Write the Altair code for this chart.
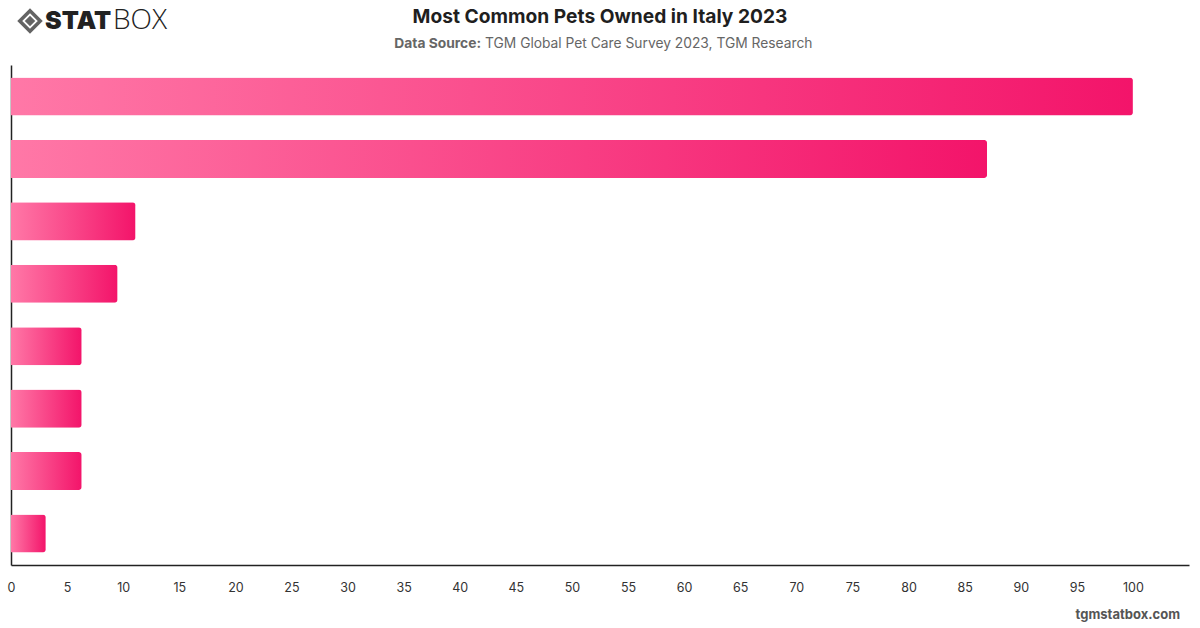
import altair as alt
import pandas as pd

# Share of pet owners in Italy owning each kind of pet (2023)
pets = ["Dogs", "Cats", "Fish", "Birds", "Rabbits", "Turtles", "Hamsters", "Reptiles"]
shares = [100, 87, 11.1, 9.5, 6.3, 6.3, 6.3, 3.1]
tick_values = list(range(0, 101, 5))

df = pd.DataFrame({"pet": pets, "share": shares})

W, H = 1178, 500
FONT = "Inter"

gradient = alt.Gradient(
    gradient="linear",
    x1=0, y1=0, x2=1, y2=0,
    stops=[
        alt.GradientStop(color="#ff78a7", offset=0),
        alt.GradientStop(color="#f3146a", offset=1),
    ],
)

bars = alt.Chart(df).mark_bar(
    color=gradient, cornerRadiusEnd=3, clip=False
).encode(
    x=alt.X(
        "share:Q",
        scale=alt.Scale(domain=[0, 105], nice=False, zero=True),
        axis=alt.Axis(
            values=tick_values, title=None, grid=False, ticks=False,
            domainColor="#222222", domainWidth=1.5,
            labelColor="#333333", labelFontSize=12.5, labelFont=FONT,
            labelPadding=16, labelFlush=False,
        ),
    ),
    y=alt.Y(
        "pet:N", sort=pets,
        scale=alt.Scale(paddingInner=0.39, paddingOuter=0.2),
        axis=alt.Axis(
            title=None, labels=False, ticks=False, grid=False,
            domainColor="#222222", domainWidth=1.5,
        ),
    ),
)

def text_at(txt, x, y, size, weight="normal", color="#222222", align="center", font=FONT):
    return alt.Chart(pd.DataFrame({"t": [txt]})).mark_text(
        fontSize=size, fontWeight=weight, color=color, align=align,
        baseline="middle", font=font, clip=False,
    ).encode(text="t:N", x=alt.value(x), y=alt.value(y))

title = text_at("Most Common Pets Owned in Italy 2023", 589, -48, 19.2, "bold", "#1f1f1f")
sub_bold = text_at("Data Source:", 470, -21, 13.8, "bold", "#666666", align="right")
sub_rest = text_at("TGM Global Pet Care Survey 2023, TGM Research", 474, -21, 13.8,
                   "normal", "#666666", align="left")
footer = text_at("tgmstatbox.com", 1169, 550, 13, "bold", "#555555", align="right")

# Brand mark in the top-left corner: diamond icon, heavy "STAT", light "BOX"
logo_outer = alt.Chart(pd.DataFrame({"a": [0]})).mark_point(
    shape="diamond", size=420, filled=False, strokeWidth=3.5, color="#222222", clip=False
).encode(x=alt.value(19), y=alt.value(-44))
logo_inner = alt.Chart(pd.DataFrame({"a": [0]})).mark_point(
    shape="diamond", size=110, filled=True, color="#222222", clip=False
).encode(x=alt.value(19), y=alt.value(-44))
logo_stat = text_at("STAT", 34, -44, 25, 900, "#222222", align="left", font="Inter")
logo_box = text_at("BOX", 102, -44, 28, 300, "#222222", align="left", font="Open Sans")

chart = alt.layer(
    bars, title, sub_bold, sub_rest, footer, logo_outer, logo_inner, logo_stat, logo_box
).properties(
    width=W, height=H,
    autosize=alt.AutoSizeParams(type="none"),
    padding={"left": 11, "top": 65, "right": 11, "bottom": 63},
    background="white",
).configure_view(stroke=None)

chart.save("out.html", embed_options={"renderer": "svg", "actions": False})
